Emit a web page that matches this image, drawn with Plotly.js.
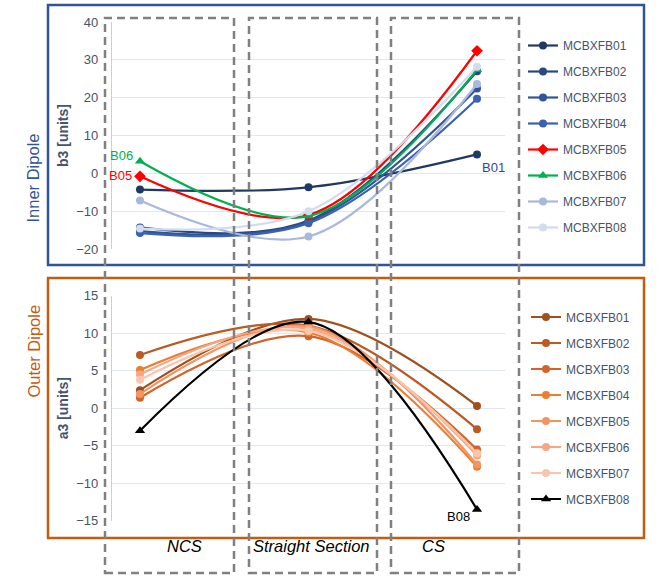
<!DOCTYPE html>
<html>
<head>
<meta charset="utf-8">
<script src="https://cdn.plot.ly/plotly-3.0.1.min.js"></script>
<style>html,body{margin:0;padding:0;background:#fff;}#chart{width:658px;height:576px;}</style>
</head>
<body>
<div id="chart"></div>
<script>
// ---------- DATA ----------
const categories = ['NCS', 'Straight Section', 'CS'];
const magnets = ['MCBXFB01','MCBXFB02','MCBXFB03','MCBXFB04','MCBXFB05','MCBXFB06','MCBXFB07','MCBXFB08'];

// Inner dipole, b3 [units]
const b3_B01 = [-4.3, -3.7, 5.0];
const b3_B02 = [-14.3, -12.5, 27.0];
const b3_B03 = [-15.3, -12.8, 22.4];
const b3_B04 = [-15.8, -13.2, 19.7];
const b3_B05 = [-0.8, -11.0, 32.4];
const b3_B06 = [3.2, -11.3, 27.4];
const b3_B07 = [-7.2, -16.7, 23.6];
const b3_B08 = [-14.6, -10.0, 28.2];

// Outer dipole, a3 [units]
const a3_B01 = [2.4, 11.9, 0.3];
const a3_B02 = [7.1, 11.0, -2.8];
const a3_B03 = [1.4, 9.6, -5.5];
const a3_B04 = [5.1, 10.1, -7.8];
const a3_B05 = [1.9, 10.9, -7.5];
const a3_B06 = [4.5, 10.6, -6.3];
const a3_B07 = [3.8, 10.3, -6.0];
const a3_B08 = [-3.0, 11.5, -13.5];

const b3Values = [b3_B01, b3_B02, b3_B03, b3_B04, b3_B05, b3_B06, b3_B07, b3_B08];
const a3Values = [a3_B01, a3_B02, a3_B03, a3_B04, a3_B05, a3_B06, a3_B07, a3_B08];

// ---------- STYLE ----------
const innerColors = ['#203864','#2a4782','#2f5597','#3b62ae','#ff0000','#00b050','#a9b8de','#d3dbef'];
const innerSymbols = ['circle','circle','circle','circle','diamond','triangle-up','circle','circle'];
const outerColors = ['#a0501d','#bb5a22','#d0642a','#ed7d31','#f39463','#f4a687','#f8c6ab','#000000'];
const outerSymbols = ['circle','circle','circle','circle','circle','circle','circle','triangle-up'];

const W = 658, H = 576;
const px = v => v / W;
const py = v => 1 - v / H;

const traces = [];
magnets.forEach((m, i) => {
  traces.push({
    x: categories, y: b3Values[i], name: m, type: 'scatter', mode: 'lines+markers',
    xaxis: 'x', yaxis: 'y', legend: 'legend', legendgroup: 'in' + i,
    line: {color: innerColors[i], width: 2.2, shape: 'spline', smoothing: 1},
    marker: {color: innerColors[i], size: innerSymbols[i] === 'circle' ? 8 : 9, symbol: innerSymbols[i]},
    hoverinfo: 'x+y+name'
  });
});
magnets.forEach((m, i) => {
  traces.push({
    x: categories, y: a3Values[i], name: m, type: 'scatter', mode: 'lines+markers',
    xaxis: 'x2', yaxis: 'y2', legend: 'legend2', legendgroup: 'out' + i,
    line: {color: outerColors[i], width: 2.2, shape: 'spline', smoothing: 1},
    marker: {color: outerColors[i], size: outerSymbols[i] === 'circle' ? 8 : 9, symbol: outerSymbols[i]},
    hoverinfo: 'x+y+name'
  });
});

const tickFont = {family: 'Liberation Sans, Arial, sans-serif', size: 13, color: '#44546a'};
const xCommon = {
  type: 'category', range: [-0.166, 2.166], domain: [px(112), px(505)],
  showgrid: false, zeroline: false, showline: false, showticklabels: false, fixedrange: true
};
const yCommon = {
  showgrid: true, gridcolor: '#e2e6ee', gridwidth: 1, zeroline: false,
  showline: true, linecolor: '#c3cfe4', linewidth: 1.2,
  ticks: '', ticklabelstandoff: 10, tickfont: tickFont, fixedrange: true
};

const dashLine = {color: '#808080', width: 2.5, dash: '8px,5px'};
const shapes = [
  {type: 'rect', xref: 'paper', yref: 'paper', x0: px(48), x1: px(644), y0: py(265), y1: py(5),
   line: {color: '#2f5597', width: 2.5}, layer: 'below'},
  {type: 'rect', xref: 'paper', yref: 'paper', x0: px(48), x1: px(644), y0: py(538), y1: py(278),
   line: {color: '#c55a11', width: 2.5}, layer: 'below'},
  {type: 'rect', xref: 'paper', yref: 'paper', x0: px(105), x1: px(234), y0: py(573), y1: py(18), line: dashLine},
  {type: 'rect', xref: 'paper', yref: 'paper', x0: px(249), x1: px(377), y0: py(573), y1: py(18), line: dashLine},
  {type: 'rect', xref: 'paper', yref: 'paper', x0: px(391), x1: px(519), y0: py(573), y1: py(18), line: dashLine}
];

const lblFont = {family: 'Liberation Sans, Arial, sans-serif', size: 16.5, color: '#000000'};
const annotations = [
  {xref: 'paper', yref: 'paper', x: px(165), y: py(557), text: '<i>' + categories[0] + '</i>', showarrow: false, font: lblFont},
  {xref: 'paper', yref: 'paper', x: px(311), y: py(557), text: '<i>' + categories[1] + '</i>', showarrow: false, font: lblFont},
  {xref: 'paper', yref: 'paper', x: px(447), y: py(557), text: '<i>' + categories[2] + '</i>', showarrow: false, font: lblFont},
  {xref: 'paper', yref: 'paper', x: px(22), y: py(132), text: 'Inner Dipole', textangle: -90, showarrow: false,
   font: {family: 'Liberation Sans, Arial, sans-serif', size: 16.5, color: '#2f5597'}},
  {xref: 'paper', yref: 'paper', x: px(22), y: py(400), text: 'Outer Dipole', textangle: -90, showarrow: false,
   font: {family: 'Liberation Sans, Arial, sans-serif', size: 16.5, color: '#c55a11'}},
  {xref: 'x', yref: 'y', x: -0.03, y: 4.8, xanchor: 'right', text: 'B06', showarrow: false,
   font: {family: 'Liberation Sans, Arial, sans-serif', size: 13, color: '#00b050'}},
  {xref: 'x', yref: 'y', x: -0.035, y: -0.7, xanchor: 'right', text: 'B05', showarrow: false,
   font: {family: 'Liberation Sans, Arial, sans-serif', size: 13, color: '#ff0000'}},
  {xref: 'x', yref: 'y', x: 2.02, y: 1.5, xanchor: 'left', text: 'B01', showarrow: false,
   font: {family: 'Liberation Sans, Arial, sans-serif', size: 13, color: '#2f4a85'}},
  {xref: 'x2', yref: 'y2', x: 1.97, y: -14.45, xanchor: 'right', text: 'B08', showarrow: false,
   font: {family: 'Liberation Sans, Arial, sans-serif', size: 13, color: '#000000'}}
];

const legFont = {family: 'Liberation Sans, Arial, sans-serif', size: 12, color: '#44546a'};
const layout = {
  width: W, height: H,
  margin: {l: 0, r: 0, t: 0, b: 0},
  paper_bgcolor: '#ffffff', plot_bgcolor: '#ffffff',
  font: {family: 'Liberation Sans, Arial, sans-serif'},
  xaxis: Object.assign({}, xCommon, {anchor: 'y'}),
  xaxis2: Object.assign({}, xCommon, {anchor: 'y2'}),
  yaxis: Object.assign({}, yCommon, {
    domain: [py(249), py(22)], range: [-20, 40], dtick: 10, anchor: 'x',
    title: {text: '<b>b3 [units]</b>', font: {family: 'Liberation Sans, Arial, sans-serif', size: 14, color: '#44546a'}, standoff: 4}
  }),
  yaxis2: Object.assign({}, yCommon, {
    domain: [py(520.7), py(295.7)], range: [-15, 15], dtick: 5, anchor: 'x2',
    title: {text: '<b>a3 [units]</b>', font: {family: 'Liberation Sans, Arial, sans-serif', size: 14, color: '#44546a'}, standoff: 4}
  }),
  showlegend: true,
  legend: {x: px(523), xanchor: 'left', y: py(31), yanchor: 'top', bgcolor: 'rgba(0,0,0,0)',
           font: legFont, traceorder: 'grouped', tracegroupgap: 7, itemwidth: 30},
  legend2: {x: px(526), xanchor: 'left', y: py(302.5), yanchor: 'top', bgcolor: 'rgba(0,0,0,0)',
            font: legFont, traceorder: 'grouped', tracegroupgap: 7, itemwidth: 30},
  shapes: shapes,
  annotations: annotations
};

Plotly.newPlot('chart', traces, layout, {displayModeBar: false, staticPlot: true});
</script>
</body>
</html>
